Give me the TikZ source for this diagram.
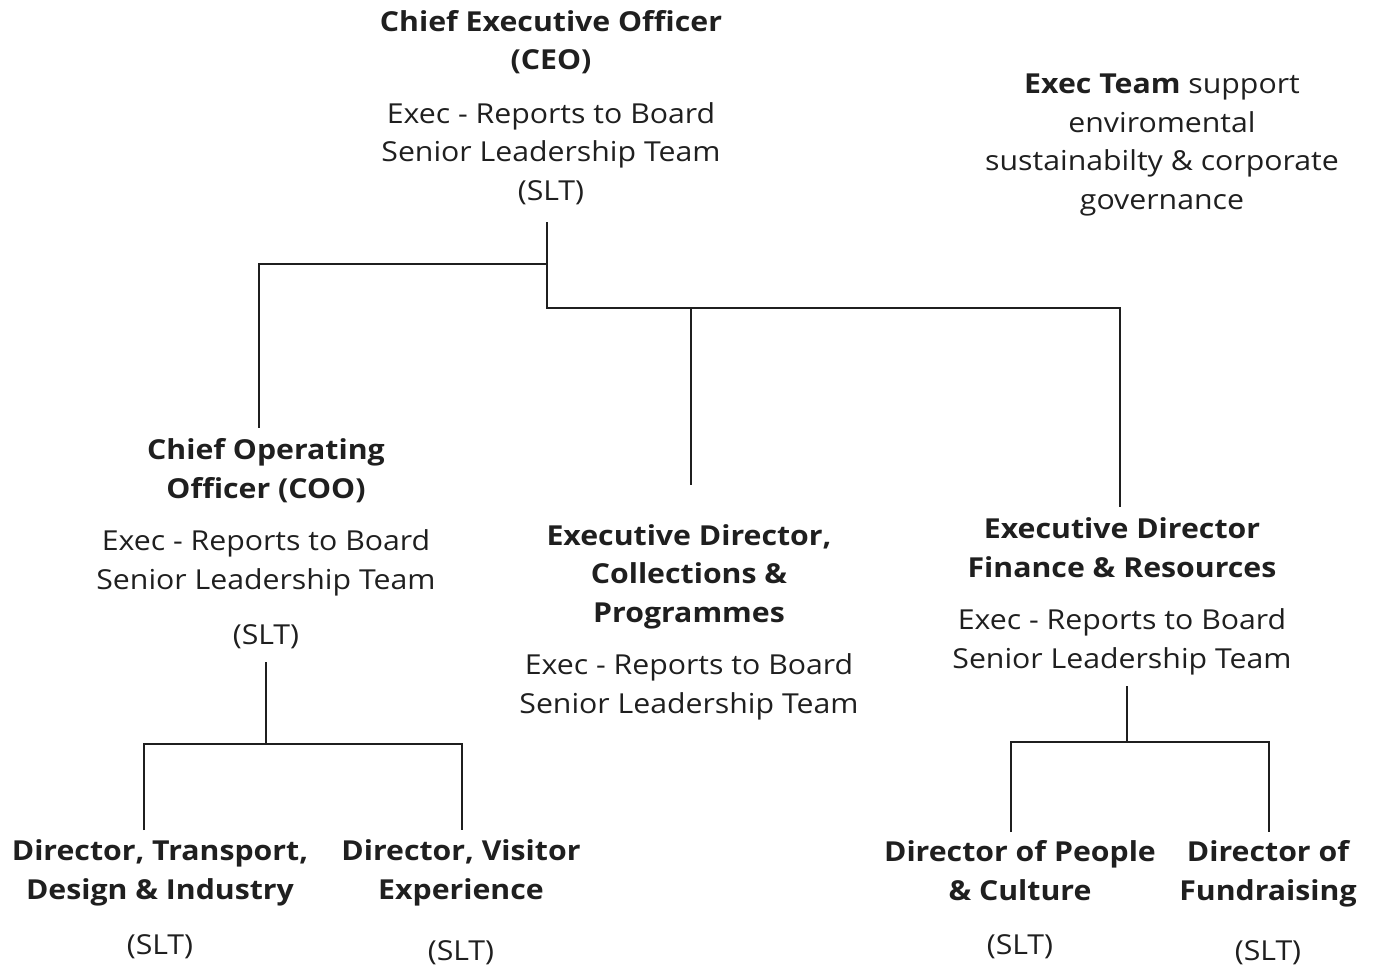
\documentclass[tikz,border=0pt]{standalone}
\usepackage{fontspec}
\setmainfont{Open Sans}[FakeStretch=1.1]
\definecolor{ink}{HTML}{1F1F1F}
\tikzset{
  title/.style={anchor=base, align=center, text=ink, font=\bfseries\fontsize{27.5}{38.5}\selectfont, inner sep=0pt},
  role/.style={anchor=base, align=center, text=ink, font=\fontsize{27.5}{38.5}\selectfont, inner sep=0pt},
  link/.style={draw=ink, line width=2pt}
}
\begin{document}
\begin{tikzpicture}[x=1pt, y=-1pt]
			\useasboundingbox (0,0) rectangle (1377,966);

				\node[title] (ceo) at (551,70) {Chief Executive Officer\\(CEO)};
				\node[role] (ceotext) at (551,200) {Exec - Reports to Board\\Senior Leadership Team\\(SLT)};

				\node[role] (note) at (1162,209) {\textbf{Exec Team} support\\enviromental\\sustainabilty \& corporate\\governance};

				\node[title] (coo) at (266,498) {Chief Operating\\Officer (COO)};
				\node[role] (cootext) at (266,589) {Exec - Reports to Board\\Senior Leadership Team};
				\node[role] (cooslt) at (266,644) {(SLT)};

				\node[title] (cp) at (689,622) {Executive Director,\\Collections \&\\Programmes};
				\node[role] (cptext) at (689,713) {Exec - Reports to Board\\Senior Leadership Team};

				\node[title] (fr) at (1122,577) {Executive Director\\Finance \& Resources};
				\node[role] (frtext) at (1122,668) {Exec - Reports to Board\\Senior Leadership Team};

				\node[title] (dt) at (160,899) {Director, Transport,\\Design \& Industry};
				\node[role] (dtslt) at (160,954) {(SLT)};
				\node[title] (dv) at (461,899) {Director, Visitor\\Experience};
				\node[role] (dvslt) at (461,960) {(SLT)};

				\node[title] (dp) at (1020,900) {Director of People\\\& Culture};
				\node[role] (dpslt) at (1020,954) {(SLT)};
				\node[title] (df) at (1268,900) {Director of\\Fundraising};
				\node[role] (dfslt) at (1268,960) {(SLT)};

				\coordinate (ceo-out) at (547,222);
				\coordinate (ceo-bus) at (547,308);
				\coordinate (coo-in) at (259,428);
				\coordinate (cp-in) at (691,485);
				\coordinate (fr-in) at (1120,507);
				\draw[link] (ceo-out) -- (ceo-bus) -| (fr-in);
				\draw[link] (547,264) -| (coo-in);
				\draw[link] (cp-in |- ceo-bus) -- (cp-in);

				\coordinate (coo-out) at (266,662);
				\coordinate (coo-bus) at (266,744);
				\coordinate (dt-in) at (144,830);
				\coordinate (dv-in) at (462,830);
				\draw[link] (coo-out) -- (coo-bus);
				\draw[link] (dt-in) |- (dv-in |- coo-bus) -- (dv-in);

				\coordinate (fr-out) at (1127,686);
				\coordinate (fr-bus) at (1127,742);
				\coordinate (dp-in) at (1011,832);
				\coordinate (df-in) at (1269,832);
				\draw[link] (fr-out) -- (fr-bus);
				\draw[link] (dp-in) |- (df-in |- fr-bus) -- (df-in);

			\end{tikzpicture}
\end{document}
